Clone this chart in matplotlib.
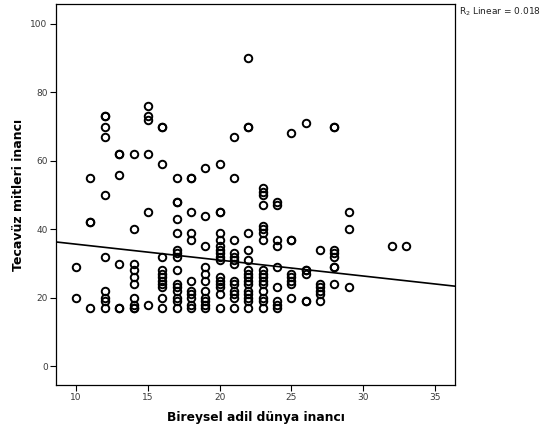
import numpy as np
import matplotlib
matplotlib.use("Agg")
import matplotlib.pyplot as plt

# scores, column by column (x = Bireysel adil dunya inanci)
cols = {
    10: [29, 20],
    11: [55, 42, 42, 17],
    12: [73, 73, 70, 67, 50, 32, 22, 20, 19, 17],
    13: [62, 62, 56, 30, 17, 17],
    14: [62, 40, 30, 28, 26, 24, 20, 18, 17, 17],
    15: [76, 73, 72, 62, 45, 18],
    16: [70, 70, 59, 32, 28, 27, 26, 25, 24, 23, 20, 17],
    17: [55, 48, 48, 43, 39, 34, 33, 32, 28, 24, 23, 22, 20, 19, 17],
    18: [55, 55, 45, 39, 37, 25, 22, 21, 20, 18, 17],
    19: [58, 44, 35, 29, 27, 25, 22, 20, 19, 18, 17],
    20: [59, 45, 45, 39, 37, 35, 34, 33, 32, 31, 26, 25, 24, 23, 21, 17],
    21: [67, 55, 37, 33, 32, 31, 30, 25, 24, 22, 21, 20, 17],
    22: [90, 70, 70, 39, 34, 31, 28, 27, 26, 25, 24, 22, 21, 20, 19, 17],
    23: [52, 51, 50, 47, 41, 40, 39, 37, 28, 27, 26, 25, 24, 22, 20, 19, 17],
    24: [48, 47, 37, 35, 29, 23, 19, 18, 17],
    25: [68, 37, 37, 27, 26, 25, 24, 20],
    26: [71, 28, 28, 27, 19, 19],
    27: [34, 24, 23, 22, 21, 19],
    28: [70, 70, 34, 33, 32, 29, 29, 24],
    29: [45, 40, 23],
    32: [35],
    33: [35],
}
adil = []
tecavuz = []
for k, vals in cols.items():
    adil += [k] * len(vals)
    tecavuz += vals

# fit line as shown in the chart (intercept, slope)
fit_intercept = 40.3
fit_slope = -0.465
r2_text = "R$_2$ Linear = 0.018"

xticks = [10, 15, 20, 25, 30, 35]
yticks = [0, 20, 40, 60, 80, 100]

fig = plt.figure(figsize=(5.45, 4.28), dpi=100)
ax = fig.add_axes([0.1028, 0.1005, 0.7321, 0.8890])

ax.plot(adil, tecavuz, 'o', mfc='none', mec='black', ms=5.4, mew=1.4, zorder=3)

xlim = (8.6, 36.4)
lx = np.array(xlim)
ax.plot(lx, fit_intercept + fit_slope * lx, color='black', lw=1.2, zorder=2)

ax.set_xlim(*xlim)
ax.set_ylim(-5.5, 105.7)
ax.set_xticks(xticks)
ax.set_yticks(yticks)
ax.tick_params(labelsize=6.5, labelcolor='#3a3a3a', length=4, width=0.8, pad=2)
for s in ax.spines.values():
    s.set_linewidth(0.9)

ax.set_xlabel("Bireysel adil dünya inancı", fontsize=8.8, fontweight='bold', labelpad=6)
ax.set_ylabel("Tecavüz mitleri inancı", fontsize=9, fontweight='bold', labelpad=4)

fig.text(0.842, 0.972, r2_text, fontsize=6.5, color='#222222', va='center')

fig.savefig("out.png", dpi=100)
